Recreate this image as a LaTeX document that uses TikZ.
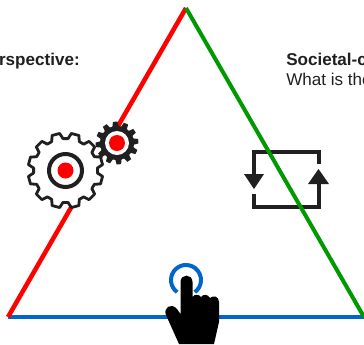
\documentclass[tikz,border=0pt]{standalone}
\usepackage{fontspec}
\setmainfont{Liberation Sans}
\definecolor{sideRed}{RGB}{255,0,0}
\definecolor{sideGreen}{RGB}{0,153,0}
\definecolor{sideBlue}{RGB}{0,102,204}
\definecolor{iconDark}{RGB}{32,32,32}
\tikzset{
  side/.style={line width=3},
  label/.style={anchor=north west,inner sep=0pt,font=\fontsize{12.8}{15}\selectfont,text=iconDark},
  labelhead/.style={label,font=\fontsize{12.8}{15}\selectfont\bfseries},
  cog/.style={line join=round,fill=white,draw=iconDark},
  hub/.style={fill=sideRed,draw=none},
  loopline/.style={draw=iconDark,line width=3,line cap=butt,line join=miter},
  looptip/.style={fill=iconDark,draw=none}
}
% teeth: x, y, outer radius, root radius, phase
\newcommand{\cogpath}[5]{
  ({#1+#4*cos(#5-10.5)},{#2+#4*sin(#5-10.5)})
  \foreach \k in {0,...,11}{
    -- ({#1+#3*cos(\k*30+#5-6)},{#2+#3*sin(\k*30+#5-6)})
    -- ({#1+#3*cos(\k*30+#5+6)},{#2+#3*sin(\k*30+#5+6)})
    -- ({#1+#4*cos(\k*30+#5+10.5)},{#2+#4*sin(\k*30+#5+10.5)})
    -- ({#1+#4*cos(\k*30+#5+19.5)},{#2+#4*sin(\k*30+#5+19.5)})
  } -- cycle
}
\begin{document}
\begin{tikzpicture}[x=0.75pt,y=0.75pt,yscale=-1,xscale=1]
	\useasboundingbox (0,0) rectangle (364,344);
	\clip (0,0) rectangle (364,344);

	\coordinate (apex) at (186,8);
	\coordinate (left) at (8,317);
	\coordinate (right) at (364,317);

	% Text Node
	\node [labelhead,anchor=north east] (perspective) at (80,53) {rspective:};
	\node [labelhead] (societal) at (286,53) {Societal-c};
	\node [label] (question) at (286,73) {What is the};

	% Connection
	\draw [side,sideBlue] (left) -- (right);
	\draw [line width=3.4,sideRed] (left) -- (apex);

	% Gears
	\draw [cog,line width=2.1] \cogpath{65.5}{170.5}{37.5}{32}{15};
	\draw [iconDark,line width=3] (65.5,170.5) circle [radius=16.5];
	\fill [hub] (65.5,170.5) circle [radius=8];
	\fill [iconDark,line join=round] \cogpath{117}{143}{21.5}{17}{-5};
	\fill [white] (117,143) circle [radius=12];
	\fill [hub] (117,143) circle [radius=8];

	% Loop
	\draw [loopline] (254,174) -- (254,152) -- (318.5,152) -- (318.5,164);
	\draw [loopline] (254,194) -- (254,207) -- (318.5,207) -- (318.5,184);
	\fill [looptip] (244,174) -- (264,174) -- (254,189) -- cycle;
	\fill [looptip] (308,184) -- (329,184) -- (318.5,169) -- cycle;
	\draw [side,sideGreen] (apex) -- (right);

	% Hand
	\draw [sideBlue,line width=3] (186,280) ++(126:15) arc [start angle=126,end angle=414,radius=15];
	\fill [black] (179,344) -- (166,315)
	  .. controls (163,308) and (171,302) .. (177,309)
	  -- (180.5,314) -- (180.5,282)
	  .. controls (180.5,273.5) and (192.5,273.5) .. (192.5,282)
	  -- (192.5,297)
	  .. controls (194,294) and (199,294) .. (201,297)
	  .. controls (203,294) and (208,294) .. (210,298)
	  .. controls (213,295) and (219,296) .. (219,302)
	  -- (219,322) -- (214,344) -- cycle;
\end{tikzpicture}
\end{document}
